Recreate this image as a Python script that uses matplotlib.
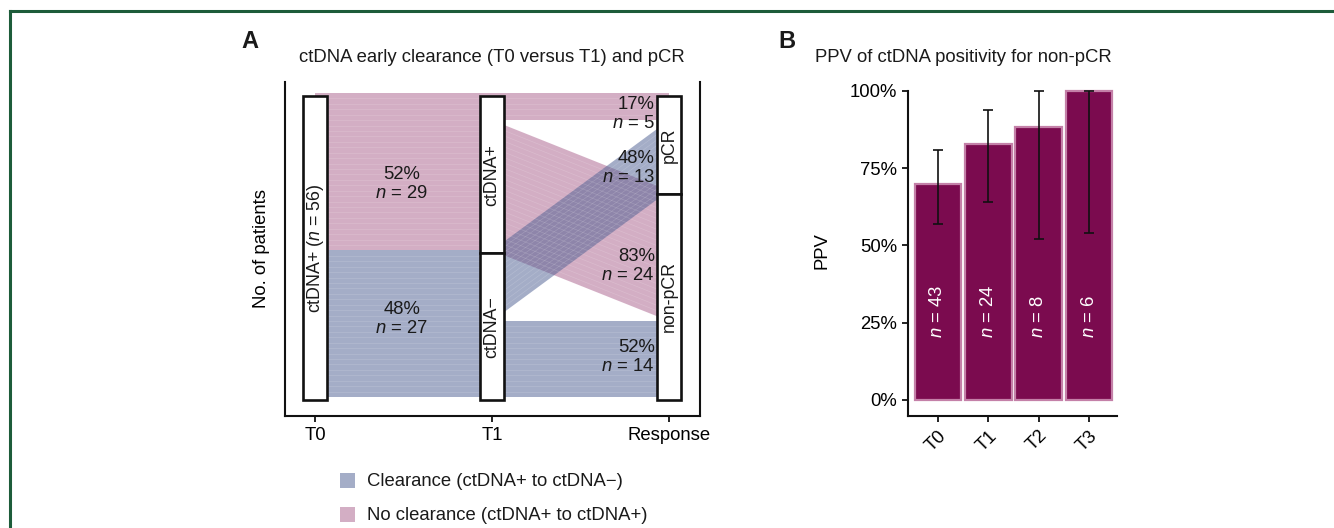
import matplotlib
matplotlib.use("Agg")
import matplotlib.pyplot as plt
from matplotlib.patches import Rectangle, Polygon
from matplotlib.lines import Line2D

plt.rcParams['font.family'] = ['Liberation Sans', 'DejaVu Sans']
plt.rcParams['mathtext.fontset'] = 'custom'
plt.rcParams['mathtext.rm'] = 'Liberation Sans'
plt.rcParams['mathtext.it'] = 'Liberation Sans:italic'
plt.rcParams['text.color'] = '#1a1a1a'

# ---- panel A: alluvial T0 -> T1 -> response ----
t0_label = "ctDNA+"
t1_groups = ["ctDNA+", "ctDNA−"]
t1_counts = [29, 27]
t1_pct = [52, 48]
response_groups = ["pCR", "non-pCR"]
flow_counts = [[5, 24], [13, 14]]   # rows: T1 group, cols: response
flow_pct = [[17, 83], [48, 52]]
axis_labels = ["T0", "T1", "Response"]

# ---- panel B: PPV bars ----
ppv_labels = ["T0", "T1", "T2", "T3"]
ppv = [0.70, 0.83, 0.885, 1.0]
ppv_lo = [0.57, 0.64, 0.52, 0.54]
ppv_hi = [0.81, 0.94, 1.0, 1.0]
ppv_n = [43, 24, 8, 6]

PINK = '#a95f8b'
BLUE = '#4b5d91'
flow_cols = [PINK, BLUE]
W, H = 1334, 528
FS = 13.3


def px_axes(fig, left, top, right, bottom):
    return fig.add_axes([left / W, (H - bottom) / H, (right - left) / W, (bottom - top) / H])


fig = plt.figure(figsize=(W / 100, H / 100), dpi=100)

# green frame
fig.add_artist(Line2D([10 / W, 1], [1 - 11 / H, 1 - 11 / H], color='#1d5c3a', lw=2.2,
                      transform=fig.transFigure))
fig.add_artist(Line2D([10 / W, 10 / W], [0, 1 - 11 / H], color='#1d5c3a', lw=2.2,
                      transform=fig.transFigure))

# ================= panel A =================
ax = px_axes(fig, 285, 82, 700, 416)
total = sum(t1_counts)
xs = [1, 2, 3]
bw = 0.13
shift = 0.55  # flows sit a hair above the boxes

t1_tops = []
y = total
for g in range(2):
    t1_tops.append(y)
    y -= t1_counts[g]
resp_totals = [flow_counts[0][r] + flow_counts[1][r] for r in range(2)]
resp_tops = []
y = total
for r in range(2):
    resp_tops.append(y)
    y -= resp_totals[r]


def draw_flow(x0, top0, x1, top1, n, color):
    poly = Polygon([(x0, top0 - n + shift), (x0, top0 + shift), (x1, top1 + shift), (x1, top1 - n + shift)],
                   closed=True, facecolor=color, edgecolor='none', alpha=0.5, zorder=1)
    ax.add_patch(poly)
    # faint seams between individual patients
    for k in range(1, n):
        ax.plot([x0, x1], [top0 - k + shift, top1 - k + shift], color='white', lw=0.5, alpha=0.16, zorder=1.5)


# T0 -> T1
for g in range(2):
    draw_flow(xs[0], t1_tops[g], xs[1], t1_tops[g], t1_counts[g], flow_cols[g])

# T1 -> response
src_cursor = list(t1_tops)
resp_cursor = list(resp_tops)
flow_pos = {}
for g in range(2):
    for r in range(2):
        flow_pos[(g, r, 'src')] = src_cursor[g]
        src_cursor[g] -= flow_counts[g][r]
for r in range(2):
    for g in range(2):
        flow_pos[(g, r, 'dst')] = resp_cursor[r]
        resp_cursor[r] -= flow_counts[g][r]
for g in range(2):
    for r in range(2):
        draw_flow(xs[1], flow_pos[(g, r, 'src')], xs[2], flow_pos[(g, r, 'dst')],
                  flow_counts[g][r], flow_cols[g])


def draw_box(x, top, n, label):
    ax.add_patch(Rectangle((x - bw / 2, top - n), bw, n, facecolor='white', edgecolor='#111111',
                           lw=1.9, zorder=3))
    ax.text(x, top - n / 2, label, rotation=90, ha='center', va='center', fontsize=FS - 0.5, zorder=4)


draw_box(xs[0], total, total, t0_label + " ($n$ = %d)" % total)
for g in range(2):
    draw_box(xs[1], t1_tops[g], t1_counts[g], t1_groups[g])
for r in range(2):
    draw_box(xs[2], resp_tops[r], resp_totals[r], response_groups[r])

# percentage labels between T0 and T1
left_off = [-1.7, 1.4]
for g in range(2):
    yc = t1_tops[g] - t1_counts[g] / 2 + left_off[g]
    ax.text(1.49, yc, "%d%%\n$n$ = %d" % (t1_pct[g], t1_counts[g]), ha='center', va='center',
            fontsize=FS, linespacing=1.2, zorder=4)

# labels near response
right_off = {(0, 0): -0.8, (1, 0): -1.8, (0, 1): -1.3, (1, 1): 0.9}
for r in range(2):
    for g in range(2):
        n = flow_counts[g][r]
        yc = flow_pos[(g, r, 'dst')] - n / 2 + right_off[(g, r)]
        ax.text(xs[2] - bw / 2 - 0.015, yc, "%d%%\n$n$ = %d" % (flow_pct[g][r], n),
                ha='right', va='center', fontsize=FS, linespacing=1.2, zorder=4)

ax.set_xlim(1 - 30 / 177, 3 + 31 / 177)
ax.set_ylim(-16 / 5.4286, total + 14 / 5.4286)
ax.set_xticks(xs)
ax.set_xticklabels(axis_labels, fontsize=FS)
ax.set_yticks([])
ax.spines['top'].set_visible(False)
for s in ['left', 'right', 'bottom']:
    ax.spines[s].set_linewidth(1.5)
    ax.spines[s].set_color('#111111')
ax.tick_params(axis='x', length=4, width=1.3, color='#111111', pad=4)
ax.set_ylabel("No. of patients", fontsize=FS, labelpad=11)
fig.text(492 / W, 1 - 58 / H, "ctDNA early clearance (T0 versus T1) and pCR", fontsize=FS,
         ha='center', va='center')
fig.text(250 / W, 1 - 42 / H, "A", fontsize=17, fontweight='bold', ha='center', va='center')

# legend
leg_items = [("Clearance (ctDNA+ to ctDNA−)", BLUE), ("No clearance (ctDNA+ to ctDNA+)", PINK)]
for i, (lab, col) in enumerate(leg_items):
    yc = 481 + i * 34
    fig.add_artist(Rectangle((340 / W, 1 - (yc + 7) / H), 15 / W, 15 / H, facecolor=col, alpha=0.5,
                             edgecolor='none', transform=fig.transFigure))
    fig.text(367 / W, 1 - yc / H, lab, fontsize=FS, ha='left', va='center')

# ================= panel B =================
bx = px_axes(fig, 908, 85, 1117, 416)
pos = list(range(1, len(ppv) + 1))
bx.bar(pos, ppv, width=0.93, color='#7b0b4f', edgecolor='#c480a8', linewidth=1.6, zorder=2)
err_lo = [p - l for p, l in zip(ppv, ppv_lo)]
err_hi = [h - p for p, h in zip(ppv, ppv_hi)]
bx.errorbar(pos, ppv, yerr=[err_lo, err_hi], fmt='none', ecolor='#111111', elinewidth=1.2,
            capsize=3.5, capthick=1.2, zorder=3)
for p, n in zip(pos, ppv_n):
    bx.text(p, 0.2, "$n$ = %d" % n, rotation=90, ha='center', va='bottom', color='white',
            fontsize=FS, zorder=4)

bx.set_xlim(1 - 30 / 50.4, 4 + 28 / 50.4)
bx.set_ylim(-0.052, 1 + 6 / 309)
bx.set_yticks([0, 0.25, 0.5, 0.75, 1.0])
bx.set_yticklabels(["0%", "25%", "50%", "75%", "100%"], fontsize=FS)
bx.set_xticks(pos)
bx.set_xticklabels(ppv_labels, rotation=45, ha='right', rotation_mode='anchor', fontsize=FS)
bx.spines['top'].set_visible(False)
bx.spines['right'].set_visible(False)
bx.spines['left'].set_bounds(-0.052, 1.0)
for s in ['left', 'bottom']:
    bx.spines[s].set_linewidth(1.5)
    bx.spines[s].set_color('#111111')
bx.tick_params(length=4, width=1.3, color='#111111', pad=4)
bx.set_ylabel("PPV", fontsize=FS, labelpad=14)
fig.text(963 / W, 1 - 57 / H, "PPV of ctDNA positivity for non-pCR", fontsize=FS,
         ha='center', va='center')
fig.text(787 / W, 1 - 42 / H, "B", fontsize=17, fontweight='bold', ha='center', va='center')

fig.savefig("out.png", dpi=100)
